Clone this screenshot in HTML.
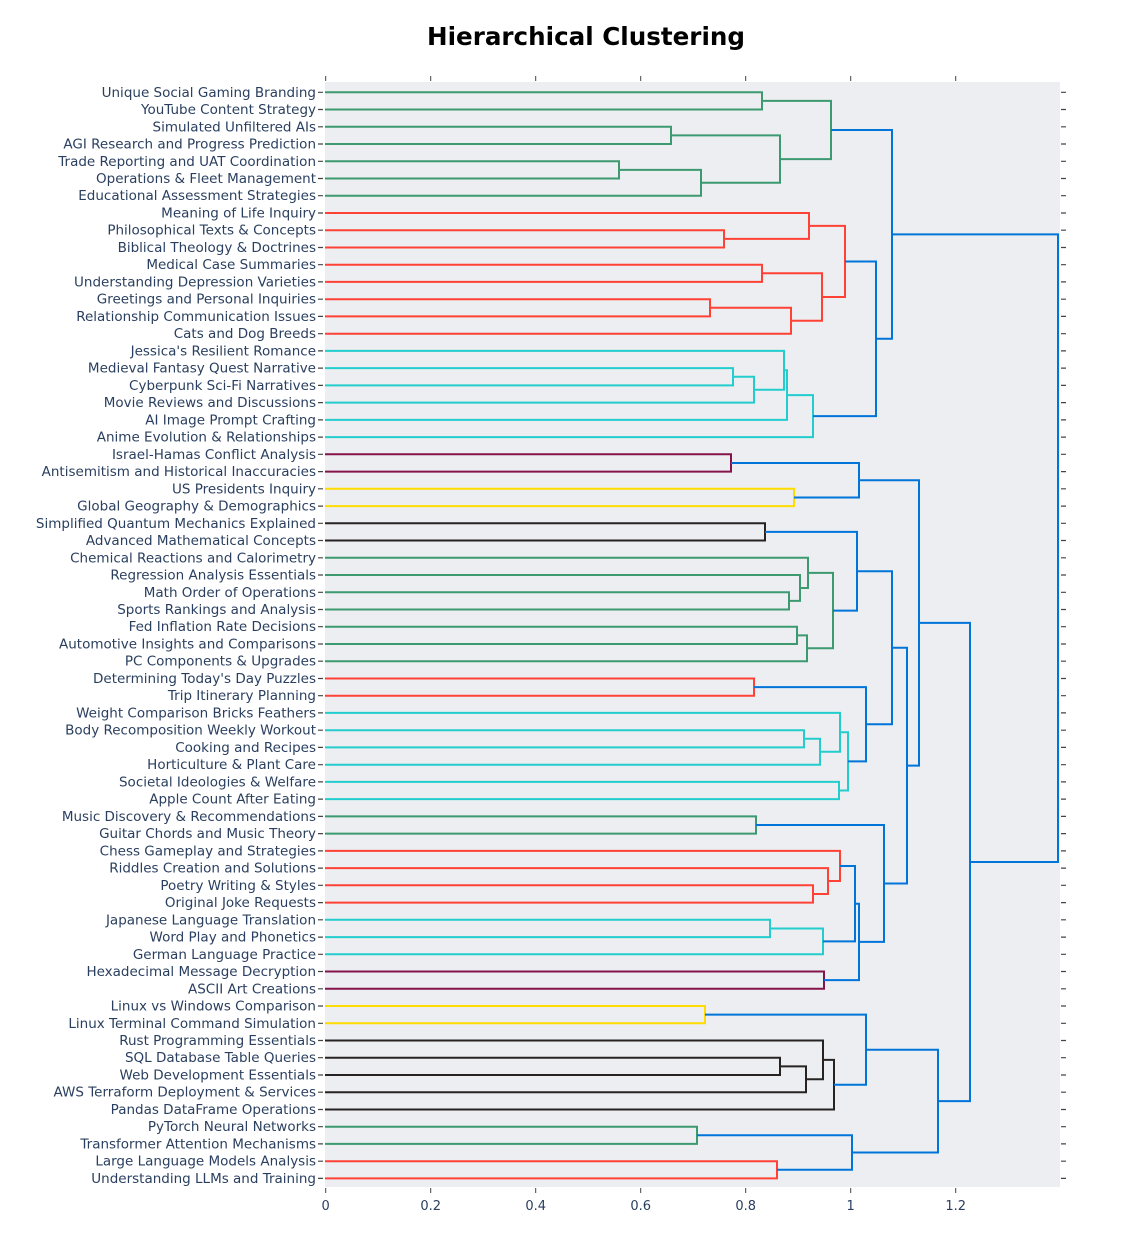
<!DOCTYPE html>
<html><head><meta charset="utf-8"><style>body{margin:0;background:#fff}svg{display:block}</style></head><body>
<svg width="1146" height="1258" xmlns="http://www.w3.org/2000/svg" font-family="'DejaVu Sans','Liberation Sans',sans-serif">
<rect x="0" y="0" width="1146" height="1258" fill="#fff"/>
<rect x="325" y="82" width="735" height="1105" fill="#eceef1"/>
<text x="586" y="45" text-anchor="middle" font-size="24.6" font-weight="bold" fill="#000">Hierarchical Clustering</text>
<g stroke="#444" stroke-width="1">
<path d="M325.7 76V81M430.7 76V81M535.7 76V81M640.7 76V81M745.7 76V81M850.7 76V81M955.7 76V81"/>
<path d="M325.7 1188V1193M430.7 1188V1193M535.7 1188V1193M640.7 1188V1193M745.7 1188V1193M850.7 1188V1193M955.7 1188V1193"/>
</g>
<g font-size="13" fill="#2a3f5f" text-anchor="middle">
<text x="325.7" y="1210">0</text><text x="430.7" y="1210">0.2</text><text x="535.7" y="1210">0.4</text><text x="640.7" y="1210">0.6</text><text x="745.7" y="1210">0.8</text><text x="850.7" y="1210">1</text><text x="955.7" y="1210">1.2</text>
</g>
<g id="labels" font-size="13.5" fill="#2a3f5f" text-anchor="end">
<text x="316" y="96.8">Unique Social Gaming Branding</text>
<text x="316" y="114">YouTube Content Strategy</text>
<text x="316" y="131.3">Simulated Unfiltered AIs</text>
<text x="316" y="148.5">AGI Research and Progress Prediction</text>
<text x="316" y="165.8">Trade Reporting and UAT Coordination</text>
<text x="316" y="183">Operations &amp; Fleet Management</text>
<text x="316" y="200.2">Educational Assessment Strategies</text>
<text x="316" y="217.5">Meaning of Life Inquiry</text>
<text x="316" y="234.7">Philosophical Texts &amp; Concepts</text>
<text x="316" y="252">Biblical Theology &amp; Doctrines</text>
<text x="316" y="269.2">Medical Case Summaries</text>
<text x="316" y="286.4">Understanding Depression Varieties</text>
<text x="316" y="303.7">Greetings and Personal Inquiries</text>
<text x="316" y="320.9">Relationship Communication Issues</text>
<text x="316" y="338.2">Cats and Dog Breeds</text>
<text x="316" y="355.4">Jessica's Resilient Romance</text>
<text x="316" y="372.6">Medieval Fantasy Quest Narrative</text>
<text x="316" y="389.9">Cyberpunk Sci-Fi Narratives</text>
<text x="316" y="407.1">Movie Reviews and Discussions</text>
<text x="316" y="424.4">AI Image Prompt Crafting</text>
<text x="316" y="441.6">Anime Evolution &amp; Relationships</text>
<text x="316" y="458.8">Israel-Hamas Conflict Analysis</text>
<text x="316" y="476.1">Antisemitism and Historical Inaccuracies</text>
<text x="316" y="493.3">US Presidents Inquiry</text>
<text x="316" y="510.6">Global Geography &amp; Demographics</text>
<text x="316" y="527.8">Simplified Quantum Mechanics Explained</text>
<text x="316" y="545">Advanced Mathematical Concepts</text>
<text x="316" y="562.3">Chemical Reactions and Calorimetry</text>
<text x="316" y="579.5">Regression Analysis Essentials</text>
<text x="316" y="596.8">Math Order of Operations</text>
<text x="316" y="614">Sports Rankings and Analysis</text>
<text x="316" y="631.2">Fed Inflation Rate Decisions</text>
<text x="316" y="648.5">Automotive Insights and Comparisons</text>
<text x="316" y="665.7">PC Components &amp; Upgrades</text>
<text x="316" y="683">Determining Today's Day Puzzles</text>
<text x="316" y="700.2">Trip Itinerary Planning</text>
<text x="316" y="717.4">Weight Comparison Bricks Feathers</text>
<text x="316" y="734.7">Body Recomposition Weekly Workout</text>
<text x="316" y="751.9">Cooking and Recipes</text>
<text x="316" y="769.2">Horticulture &amp; Plant Care</text>
<text x="316" y="786.4">Societal Ideologies &amp; Welfare</text>
<text x="316" y="803.6">Apple Count After Eating</text>
<text x="316" y="820.9">Music Discovery &amp; Recommendations</text>
<text x="316" y="838.1">Guitar Chords and Music Theory</text>
<text x="316" y="855.4">Chess Gameplay and Strategies</text>
<text x="316" y="872.6">Riddles Creation and Solutions</text>
<text x="316" y="889.8">Poetry Writing &amp; Styles</text>
<text x="316" y="907.1">Original Joke Requests</text>
<text x="316" y="924.3">Japanese Language Translation</text>
<text x="316" y="941.6">Word Play and Phonetics</text>
<text x="316" y="958.8">German Language Practice</text>
<text x="316" y="976">Hexadecimal Message Decryption</text>
<text x="316" y="993.3">ASCII Art Creations</text>
<text x="316" y="1010.5">Linux vs Windows Comparison</text>
<text x="316" y="1027.8">Linux Terminal Command Simulation</text>
<text x="316" y="1045">Rust Programming Essentials</text>
<text x="316" y="1062.2">SQL Database Table Queries</text>
<text x="316" y="1079.5">Web Development Essentials</text>
<text x="316" y="1096.7">AWS Terraform Deployment &amp; Services</text>
<text x="316" y="1114">Pandas DataFrame Operations</text>
<text x="316" y="1131.2">PyTorch Neural Networks</text>
<text x="316" y="1148.4">Transformer Attention Mechanisms</text>
<text x="316" y="1165.7">Large Language Models Analysis</text>
<text x="316" y="1182.9">Understanding LLMs and Training</text>
</g>
<g stroke="#444" stroke-width="1.2">
<path d="M318 92.3H323M318 109.5H323M318 126.8H323M318 144H323M318 161.3H323M318 178.5H323M318 195.7H323M318 213H323M318 230.2H323M318 247.5H323M318 264.7H323M318 281.9H323M318 299.2H323M318 316.4H323M318 333.7H323M318 350.9H323M318 368.1H323M318 385.4H323M318 402.6H323M318 419.9H323M318 437.1H323M318 454.3H323M318 471.6H323M318 488.8H323M318 506.1H323M318 523.3H323M318 540.5H323M318 557.8H323M318 575H323M318 592.3H323M318 609.5H323M318 626.7H323M318 644H323M318 661.2H323M318 678.5H323M318 695.7H323M318 712.9H323M318 730.2H323M318 747.4H323M318 764.7H323M318 781.9H323M318 799.1H323M318 816.4H323M318 833.6H323M318 850.9H323M318 868.1H323M318 885.3H323M318 902.6H323M318 919.8H323M318 937.1H323M318 954.3H323M318 971.5H323M318 988.8H323M318 1006H323M318 1023.3H323M318 1040.5H323M318 1057.7H323M318 1075H323M318 1092.2H323M318 1109.5H323M318 1126.7H323M318 1143.9H323M318 1161.2H323M318 1178.4H323"/>
<path d="M1061 92.3H1066M1061 109.5H1066M1061 126.8H1066M1061 144H1066M1061 161.3H1066M1061 178.5H1066M1061 195.7H1066M1061 213H1066M1061 230.2H1066M1061 247.5H1066M1061 264.7H1066M1061 281.9H1066M1061 299.2H1066M1061 316.4H1066M1061 333.7H1066M1061 350.9H1066M1061 368.1H1066M1061 385.4H1066M1061 402.6H1066M1061 419.9H1066M1061 437.1H1066M1061 454.3H1066M1061 471.6H1066M1061 488.8H1066M1061 506.1H1066M1061 523.3H1066M1061 540.5H1066M1061 557.8H1066M1061 575H1066M1061 592.3H1066M1061 609.5H1066M1061 626.7H1066M1061 644H1066M1061 661.2H1066M1061 678.5H1066M1061 695.7H1066M1061 712.9H1066M1061 730.2H1066M1061 747.4H1066M1061 764.7H1066M1061 781.9H1066M1061 799.1H1066M1061 816.4H1066M1061 833.6H1066M1061 850.9H1066M1061 868.1H1066M1061 885.3H1066M1061 902.6H1066M1061 919.8H1066M1061 937.1H1066M1061 954.3H1066M1061 971.5H1066M1061 988.8H1066M1061 1006H1066M1061 1023.3H1066M1061 1040.5H1066M1061 1057.7H1066M1061 1075H1066M1061 1092.2H1066M1061 1109.5H1066M1061 1126.7H1066M1061 1143.9H1066M1061 1161.2H1066M1061 1178.4H1066"/>
</g>
<g fill="none" stroke-width="2">
<path stroke="rgb(61,153,112)" d="M325 92.3H762V109.5H325M325 126.8H671V144H325M325 161.3H619V178.5H325M619 169.9H701V195.7H325M671 135.4H780V182.8H701M762 100.9H831V159.1H780"/>
<path stroke="rgb(255,65,54)" d="M325 230.2H724V247.5H325M325 213H809V238.85H724M325 264.7H762V281.9H325M325 299.2H710V316.4H325M710 307.8H791V333.7H325M762 273.3H822V320.75H791M809 225.9H845V297H822"/>
<path stroke="rgb(35,205,205)" d="M325 368.1H733V385.4H325M733 376.75H754V402.6H325M325 350.9H784V389.7H754M784 370.3H787V419.9H325M787 395.1H813V437.1H325"/>
<path stroke="rgb(133,20,75)" d="M325 454.3H731V471.6H325M325 971.5H824V988.8H325"/>
<path stroke="rgb(255,220,0)" d="M325 488.8H794V506.1H325M325 1006H705V1023.3H325"/>
<path stroke="rgb(40,35,35)" d="M325 523.3H765V540.5H325M325 1057.7H780V1075H325M780 1066.35H806V1092.2H325M325 1040.5H823V1079.3H806M823 1059.9H834V1109.5H325"/>
<path stroke="rgb(61,153,112)" d="M325 592.3H789V609.5H325M325 575H800V600.9H789M325 557.8H808V587.95H800M325 626.7H797V644H325M797 635.35H807V661.2H325M808 572.9H833V648.3H807M325 816.4H756V833.6H325M325 1126.7H697V1143.9H325"/>
<path stroke="rgb(255,65,54)" d="M325 678.5H754V695.7H325M325 885.3H813V902.6H325M325 868.1H828V893.95H813M325 850.9H840V881H828M325 1161.2H777V1178.4H325"/>
<path stroke="rgb(35,205,205)" d="M325 730.2H804V747.4H325M804 738.8H820V764.7H325M325 712.9H840V751.75H820M325 781.9H839V799.1H325M840 732.3H848V790.5H839M325 919.8H770V937.1H325M770 928.45H823V954.3H325"/>
<path stroke="rgb(0,116,217)" d="M845 261.5H876V416.1H813M831 130H892V338.8H876M731 462.95H859V497.45H794M765 531.9H857V610.6H833M754 687.1H866V761.4H848M857 571.25H892V724.25H866M840 865.95H855V941.4H823M855 903.7H859V980.15H824M756 825H884V941.9H859M892 647.75H907V883.45H884M859 480.2H919V765.6H907M705 1014.65H866V1084.7H834M697 1135.3H852V1169.8H777M866 1049.7H938V1152.55H852M919 622.9H970V1101.1H938M892 234.4H1058V862H970"/>
</g>
</svg>
</body></html>
